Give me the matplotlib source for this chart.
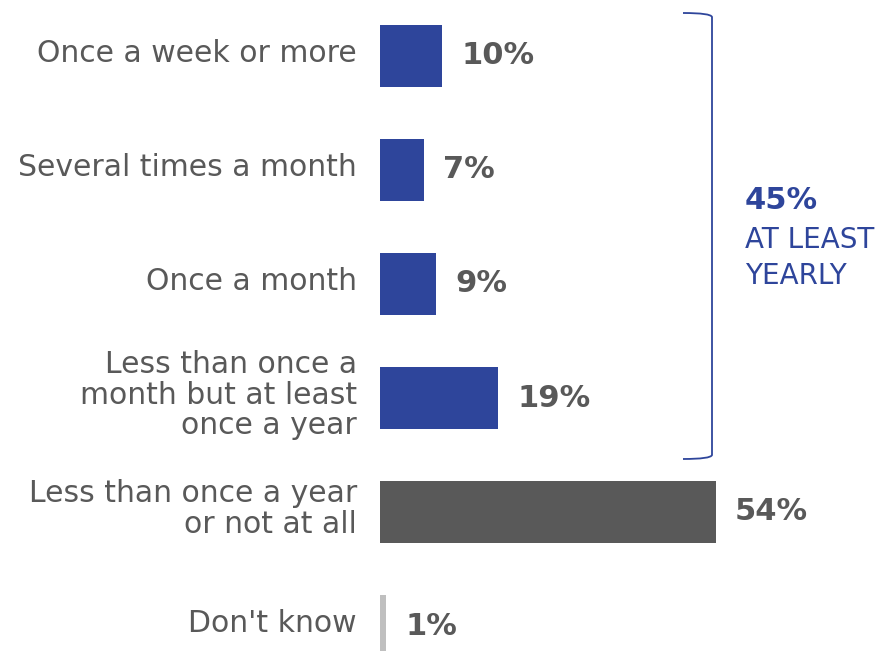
import matplotlib
matplotlib.use("Agg")
import matplotlib.pyplot as plt
from matplotlib.path import Path
from matplotlib.patches import PathPatch

categories = ["Once a week or more", "Several times a month", "Once a month",
              "Less than once a\nmonth but at least\nonce a year",
              "Less than once a year\nor not at all", "Don't know"]
values = [10, 7, 9, 19, 54, 1]
value_labels = ["10%", "7%", "9%", "19%", "54%", "1%"]
colors = ["#2E459B", "#2E459B", "#2E459B", "#2E459B", "#595959", "#BFBFBF"]
summary_value = "45%"
summary_text = "AT LEAST\nYEARLY"

plt.rcParams['font.family'] = ['DejaVu Sans']
W, H = 882, 651
fig = plt.figure(figsize=(W/100, H/100), dpi=100)
x0, x1 = 380, 716
yc0, step = 56, 114
top_idx = -yc0/step
bot_idx = (H - yc0)/step
ax = fig.add_axes([x0/W, 0, (x1-x0)/W, 1])
ax.set_xlim(0, 54)
ax.set_ylim(bot_idx, top_idx)
ax.axis('off')

idx = list(range(len(categories)))
ax.barh(idx, values, height=0.55, color=colors, clip_on=True)
gray = "#595959"
for i, (c, v, lab) in enumerate(zip(categories, values, value_labels)):
    ax.annotate(c, xy=(0, i), xytext=(-23, 3), textcoords='offset pixels',
                ha='right', va='center', fontsize=21.5, color=gray,
                multialignment='right', linespacing=1.08, annotation_clip=False)
    ax.annotate(lab, xy=(v, i), xytext=(19, 0), textcoords='offset pixels',
                ha='left', va='center', fontsize=22, fontweight='bold',
                color=gray, annotation_clip=False)

# bracket in figure pixel coords
blue = "#2E459B"
def px(x, y):
    return (x/W, 1 - y/H)
verts = [px(683, 13), px(711, 13), px(712, 17), px(712, 455), px(711, 459), px(683, 459)]
codes = [Path.MOVETO, Path.CURVE3, Path.CURVE3, Path.LINETO, Path.CURVE3, Path.CURVE3]
fig.patches.append(PathPatch(Path(verts, codes), transform=fig.transFigure,
                             fill=False, edgecolor=blue, lw=1.3))
fig.text(745/W, 1 - 200/H, summary_value, ha='left', va='center',
         fontsize=22, fontweight='bold', color=blue)
fig.text(745/W, 1 - 258/H, summary_text, ha='left', va='center',
         fontsize=20, color=blue, linespacing=1.38)

fig.savefig("out.png", dpi=100)
